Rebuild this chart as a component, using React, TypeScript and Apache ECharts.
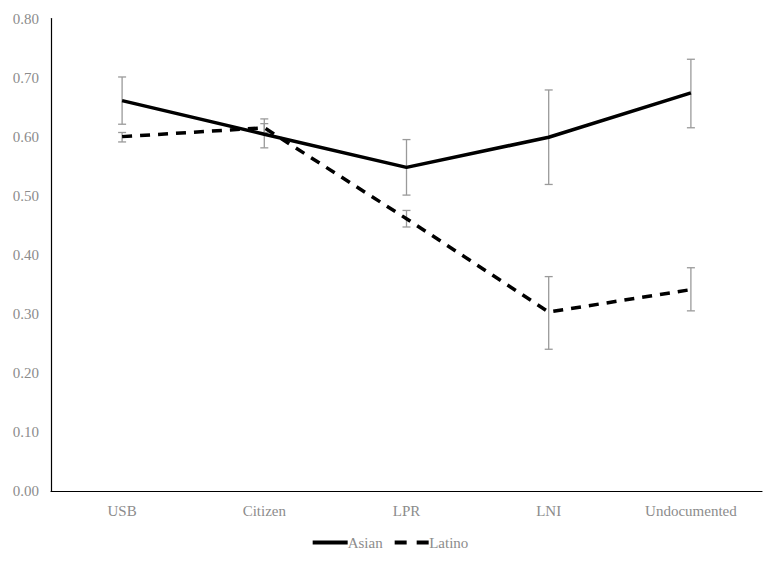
import React, { useEffect, useRef } from "react";
import * as echarts from "echarts";

const categories = ["USB", "Citizen", "LPR", "LNI", "Undocumented"];
const asianValues = [0.661, 0.604, 0.548, 0.599, 0.674];
const asianLow = [0.621, 0.581, 0.501, 0.519, 0.615];
const asianHigh = [0.701, 0.630, 0.595, 0.679, 0.731];
const latinoValues = [0.6, 0.615, 0.461, 0.303, 0.341];
const latinoLow = [0.591, 0.607, 0.447, 0.24, 0.305];
const latinoHigh = [0.607, 0.622, 0.475, 0.363, 0.378];

const errColor = "#9a9a9a";
const font = "Liberation Serif";

function errorSeries(name: string, low: number[], high: number[]) {
  return {
    name,
    type: "custom",
    z: 1,
    silent: true,
    data: low.map((l, i) => [i, l, high[i]]),
    encode: { x: 0, y: [1, 2] },
    renderItem: (params: any, api: any) => {
      const i = api.value(0);
      const lo = api.coord([i, api.value(1)]);
      const hi = api.coord([i, api.value(2)]);
      const hw = 4;
      const style = { stroke: errColor, lineWidth: 1.3, fill: "none" };
      return {
        type: "group",
        children: [
          { type: "line", shape: { x1: lo[0], y1: lo[1], x2: hi[0], y2: hi[1] }, style },
          { type: "line", shape: { x1: lo[0] - hw, y1: lo[1], x2: lo[0] + hw, y2: lo[1] }, style },
          { type: "line", shape: { x1: hi[0] - hw, y1: hi[1], x2: hi[0] + hw, y2: hi[1] }, style },
        ],
      };
    },
  };
}

export default function App() {
  const ref = useRef<HTMLDivElement>(null);
  useEffect(() => {
    if (!ref.current) return;
    const chart = echarts.init(ref.current, null, { renderer: "svg" });
    chart.setOption({
      animation: false,
      textStyle: { fontFamily: font },
      grid: { left: 51, right: 19, top: 18.5, bottom: 75, containLabel: false },
      legend: {
        data: [
          { name: "Asian", icon: "path://M0,0h35v4h-35z" },
          { name: "Latino", icon: "path://M0,0h12v4h-12z M22,0h12v4h-12z" },
        ],
        bottom: 11,
        left: "center",
        itemWidth: 35,
        itemHeight: 4,
        itemGap: 12,
        itemStyle: { color: "#000" },
        textStyle: { color: "#8c8c8c", fontSize: 15, fontFamily: font, padding: [0, 0, 0, -5] },
      },
      xAxis: {
        type: "category",
        data: categories,
        boundaryGap: true,
        axisLine: { lineStyle: { color: "#000", width: 1.2 } },
        axisTick: { show: false },
        axisLabel: { color: "#8c8c8c", fontSize: 15, margin: 12, fontFamily: font },
      },
      yAxis: {
        type: "value",
        min: 0,
        max: 0.8,
        interval: 0.1,
        splitLine: { show: false },
        axisLine: { show: true, lineStyle: { color: "#000", width: 1.2 } },
        axisTick: { show: false },
        axisLabel: {
          color: "#8c8c8c",
          fontSize: 15,
          margin: 12,
          fontFamily: font,
          formatter: (v: number) => v.toFixed(2),
        },
      },
      series: [
        errorSeries("Asian err", asianLow, asianHigh),
        errorSeries("Latino err", latinoLow, latinoHigh),
        {
          name: "Asian",
          type: "line",
          z: 3,
          data: asianValues,
          symbol: "none",
          lineStyle: { color: "#000", width: 3.5 },
          itemStyle: { color: "#000" },
        },
        {
          name: "Latino",
          type: "line",
          z: 3,
          data: latinoValues,
          symbol: "none",
          lineStyle: { color: "#000", width: 3.5, type: [10, 8] },
          itemStyle: { color: "#000" },
        },
      ],
    });
    return () => chart.dispose();
  }, []);
  return <div ref={ref} style={{ width: 781, height: 566, position: "absolute", left: 0, top: 0, background: "#fff" }} />;
}
